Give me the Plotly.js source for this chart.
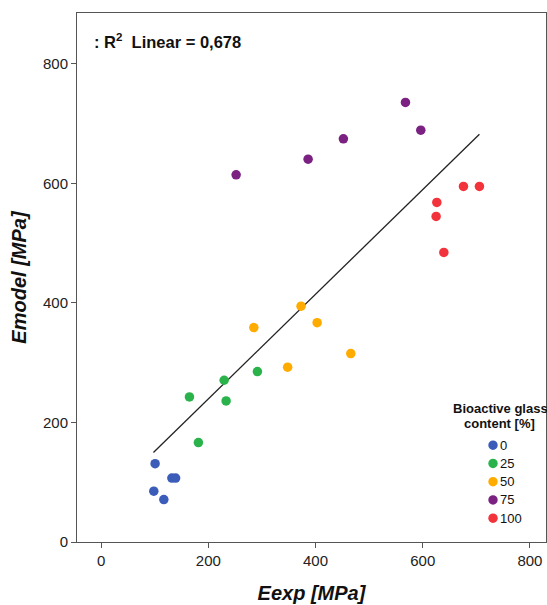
<!DOCTYPE html>
<html>
<head>
<meta charset="utf-8">
<script src="https://cdn.plot.ly/plotly-3.0.1.min.js"></script>
<style>html,body{margin:0;padding:0;background:#fff;}#chart{width:547px;height:605px;}</style>
</head>
<body>
<div id="chart"></div>
<script>
// Groups (Bioactive glass content [%])
const groups = ["0", "25", "50", "75", "100"];
const groupColors = ["#3b5cb8", "#2bb34b", "#ffab00", "#7a2182", "#f2333b"];

// Eexp [MPa] per group
const eexp0   = [100.7, 98.3, 117, 132, 139];
const eexp25  = [164.8, 229.5, 233.2, 291.6, 181.5];
const eexp50  = [284.9, 373, 403, 348, 465.8];
const eexp75  = [251.9, 386.2, 452, 567.8, 596.4];
const eexp100 = [676, 705.8, 626.3, 625, 639.4];

// Emodel [MPa] per group
const emodel0   = [131, 85, 71, 107, 107];
const emodel25  = [242.7, 270.6, 236, 285.2, 166.4];
const emodel50  = [358.8, 394.5, 367, 292.4, 315.3];
const emodel75  = [614.3, 640.5, 674.5, 735.4, 689];
const emodel100 = [594.8, 594.8, 568, 544.6, 484.4];

// Linear fit line (endpoints)
const fitX = [97.6, 705.8];
const fitY = [149.6, 682.3];

const xTicks = [0, 200, 400, 600, 800];
const yTicks = [0, 200, 400, 600, 800];

const xs = [eexp0, eexp25, eexp50, eexp75, eexp100];
const ys = [emodel0, emodel25, emodel50, emodel75, emodel100];

const traces = [{
  x: fitX, y: fitY, type: "scatter", mode: "lines",
  line: {color: "#222", width: 1.3}, showlegend: false, hoverinfo: "skip"
}];
groups.forEach((g, i) => {
  traces.push({
    x: xs[i], y: ys[i], type: "scatter", mode: "markers", name: g, showlegend: false,
    marker: {color: groupColors[i], size: 9.5, line: {width: 0}}
  });
});

// manual legend (paper coordinates)
const legX = 0.887, legY0 = 0.183, legStep = 0.0345;
const shapes = [];
const annotations = [
  {xref: "paper", yref: "paper", x: 0.031, y: 0.948, xanchor: "left", yanchor: "middle",
   text: "<b>: R<sup>2</sup>  Linear = 0,678</b>", showarrow: false, font: {size: 16.5, color: "#111"}},
  {xref: "paper", yref: "paper", x: 0.903, y: 0.252, xanchor: "center", yanchor: "middle",
   text: "<b>Bioactive glass</b>", showarrow: false, font: {size: 13, color: "#111"}},
  {xref: "paper", yref: "paper", x: 0.9, y: 0.224, xanchor: "center", yanchor: "middle",
   text: "<b>content [%]</b>", showarrow: false, font: {size: 13, color: "#111"}}
];
groups.forEach((g, i) => {
  const yy = legY0 - i * legStep;
  shapes.push({type: "circle", xref: "paper", yref: "paper", xsizemode: "pixel", ysizemode: "pixel",
    xanchor: legX, yanchor: yy, x0: -4.7, x1: 4.7, y0: -4.7, y1: 4.7,
    fillcolor: groupColors[i], line: {width: 0}});
  annotations.push({xref: "paper", yref: "paper", x: legX + 0.014, y: yy, xanchor: "left", yanchor: "middle",
    text: g, showarrow: false, font: {size: 13, color: "#111"}, xshift: -2});
});

const font = "Liberation Sans, Arial, sans-serif";
const layout = {
  width: 547, height: 605,
  margin: {l: 77, r: 1, t: 13, b: 63},
  paper_bgcolor: "#fff", plot_bgcolor: "#fff",
  font: {family: font, color: "#111"},
  showlegend: false,
  xaxis: {
    range: [-45, 830], tickvals: xTicks, ticktext: xTicks.map(String),
    ticks: "outside", ticklen: 5, tickcolor: "#555", showgrid: false, zeroline: false,
    showline: true, linecolor: "#555", linewidth: 1, mirror: true,
    tickfont: {size: 15, color: "#222"},
    title: {text: "<b><i>Eexp [MPa]</i></b>", font: {size: 20, color: "#111"}, standoff: 17}
  },
  yaxis: {
    range: [0, 885], tickvals: yTicks, ticktext: yTicks.map(String),
    ticks: "outside", ticklen: 5, tickcolor: "#555", showgrid: false, zeroline: false,
    showline: true, linecolor: "#555", linewidth: 1, mirror: true,
    tickfont: {size: 15, color: "#222"},
    title: {text: "<b><i>Emodel [MPa]</i></b>", font: {size: 20, color: "#111"}, standoff: 10}
  },
  shapes: shapes,
  annotations: annotations
};

Plotly.newPlot("chart", traces, layout, {displayModeBar: false, staticPlot: true});
</script>
</body>
</html>
